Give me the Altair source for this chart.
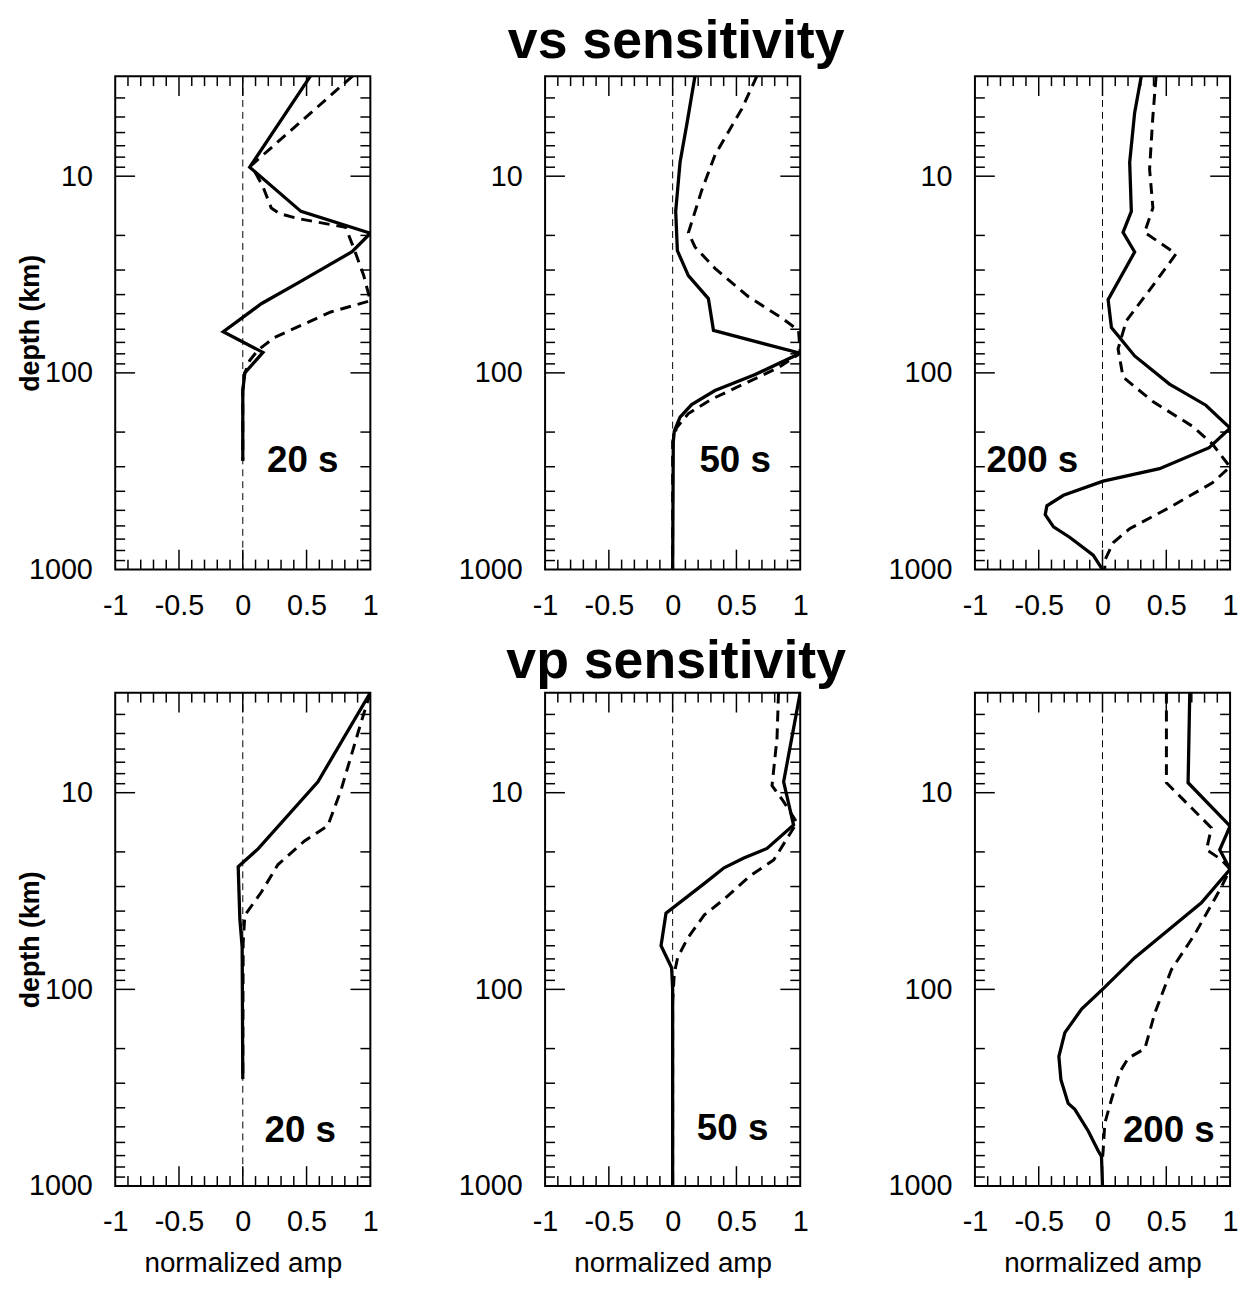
import altair as alt
import pandas as pd

FONT = "Liberation Sans"
W, H = 257, 497
Y_DOMAIN = [3.1, 1000]

# ---- tick / label values ----
x_labels = [-1, -0.5, 0, 0.5, 1]
y_labels = [10, 100, 1000]
x_major = [-0.5, 0.0, 0.5]
x_minor = [-0.9, -0.8, -0.7, -0.6, -0.4, -0.3, -0.2, -0.1, 0.1, 0.2, 0.3, 0.4, 0.6, 0.7, 0.8, 0.9]
y_major = [10, 100]
y_minor = [4, 5, 6, 7, 8, 9, 20, 30, 40, 50, 60, 70, 80, 90, 200, 300, 400, 500, 600, 700, 800, 900]

# ---- vs sensitivity, 20 s ----
vs20_solid_depth = [3.1, 9.0, 15.1, 19.5, 24.2, 35, 44.5, 61.8, 78.7, 100, 123, 280]
vs20_solid_amp = [0.53, 0.054, 0.456, 1.0, 0.857, 0.43, 0.145, -0.153, 0.158, 0.016, 0.0, 0.0]
vs20_dash_depth = [3.1, 8.8, 11.3, 14.5, 15.5, 16.4, 18.2, 23.2, 32, 43, 49, 66, 76.5, 86.6, 100, 123, 280]
vs20_dash_amp = [0.86, 0.067, 0.158, 0.223, 0.288, 0.43, 0.806, 0.87, 0.948, 1.0, 0.69, 0.249, 0.12, 0.054, 0.016, 0.0, 0.0]

# ---- vs sensitivity, 50 s ----
vs50_solid_depth = [3.1, 5.5, 8.5, 15.1, 23.9, 32, 41.9, 60.8, 79.5, 102, 123, 145, 168, 198, 224, 1000]
vs50_solid_amp = [0.175, 0.11, 0.058, 0.024, 0.037, 0.123, 0.28, 0.32, 1.0, 0.647, 0.332, 0.149, 0.058, 0.013, 0.005, 0.0]
vs50_dash_depth = [3.1, 4.55, 7.8, 11.8, 19.4, 22.9, 29.4, 41, 52.6, 60.8, 79.5, 94, 111, 136, 161, 190, 224, 1000]
vs50_dash_amp = [0.66, 0.542, 0.332, 0.228, 0.123, 0.175, 0.332, 0.594, 0.856, 0.987, 1.0, 0.83, 0.594, 0.306, 0.123, 0.031, 0.0, 0.0]

# ---- vs sensitivity, 200 s ----
vs200_solid_depth = [3.1, 4.75, 8.5, 15.1, 19.3, 24.3, 42.4, 58.9, 82, 114, 146, 191, 240, 307, 355, 419, 474, 526, 607, 687, 845, 1000]
vs200_solid_amp = [0.304, 0.252, 0.213, 0.226, 0.161, 0.252, 0.044, 0.07, 0.252, 0.525, 0.81, 1.0, 0.836, 0.447, 0.005, -0.306, -0.436, -0.449, -0.384, -0.255, -0.073, 0.0]
vs200_dash_depth = [3.1, 4.95, 9.2, 14.5, 19.3, 24.8, 36, 54.3, 75.5, 105, 140, 187, 230, 301, 362, 484, 620, 731, 898, 1000]
vs200_dash_amp = [0.42, 0.395, 0.369, 0.395, 0.33, 0.577, 0.395, 0.187, 0.122, 0.161, 0.395, 0.706, 0.862, 1.0, 0.862, 0.525, 0.213, 0.083, 0.018, 0.018]

# ---- vp sensitivity, 20 s ----
vp20_solid_depth = [3.1, 8.8, 19.3, 23.8, 44, 61, 286]
vp20_solid_amp = [1.0, 0.589, 0.12, -0.036, -0.023, -0.005, 0.0]
vp20_dash_depth = [3.1, 4.4, 9.7, 14.7, 17.6, 23.2, 32, 42, 58, 286]
vp20_dash_amp = [1.0, 0.927, 0.77, 0.667, 0.484, 0.276, 0.146, 0.016, 0.003, 0.0]

# ---- vp sensitivity, 50 s ----
vp50_solid_depth = [3.1, 8.8, 14.6, 19.2, 21.5, 24.1, 29, 41, 60, 77.6, 100, 1000]
vp50_solid_amp = [1.0, 0.87, 0.948, 0.74, 0.558, 0.403, 0.247, -0.052, -0.091, -0.008, 0.0, 0.0]
vp50_dash_depth = [3.1, 5.3, 9.2, 11.1, 14.2, 22, 26.4, 34.8, 41.9, 55, 69, 83, 115, 1000]
vp50_dash_amp = [0.83, 0.818, 0.779, 0.87, 0.974, 0.792, 0.61, 0.403, 0.247, 0.117, 0.039, 0.013, 0.0, 0.0]

# ---- vp sensitivity, 200 s ----
vp200_solid_depth = [3.1, 8.9, 14.8, 19.5, 24.5, 36.3, 50, 69, 100, 126, 166, 219, 288, 380, 407, 525, 661, 708, 1000]
vp200_solid_amp = [0.684, 0.671, 1.0, 0.919, 1.0, 0.775, 0.514, 0.253, 0.0, -0.164, -0.295, -0.342, -0.326, -0.269, -0.217, -0.112, -0.034, -0.008, 0.0]
vp200_dash_depth = [3.1, 8.9, 15.1, 19.5, 21.9, 24.5, 30.2, 52.5, 79.4, 132, 200, 224, 263, 363, 479, 661, 724]
vp200_dash_amp = [0.501, 0.501, 0.854, 0.815, 0.932, 1.0, 0.932, 0.723, 0.54, 0.41, 0.332, 0.201, 0.136, 0.07, 0.018, 0.005, 0.0]

# ---- period labels (text, amp, depth) ----
period_labels = ["20 s", "50 s", "200 s", "20 s", "50 s", "200 s"]
period_label_amp = [0.47, 0.49, -0.55, 0.45, 0.47, 0.52]
period_label_depth = [280, 280, 280, 525, 515, 525]

MAJOR_LEN, MINOR_LEN = 20, 10


def make_panel(k, solid_d, solid_a, dash_d, dash_a, ytitle, xtitle):
    xscale = alt.Scale(domain=[-1, 1], nice=False, zero=False)
    yscale = alt.Scale(type="log", domain=Y_DOMAIN, nice=False, reverse=True)
    xaxis = alt.Axis(values=x_labels, labelExpr="'' + datum.value", ticks=False, domain=False,
                     grid=False, labelFont=FONT, labelFontSize=29, labelPadding=22,
                     labelFlush=False, labelOverlap=False, labelColor="black",
                     titleFont=FONT, titleFontSize=28, titleFontWeight="normal",
                     titlePadding=13, titleColor="black")
    yaxis = alt.Axis(values=y_labels, labelExpr="'' + datum.value", ticks=False, domain=False,
                     grid=False, labelFont=FONT, labelFontSize=29, labelPadding=23,
                     labelFlush=False, labelOverlap=False, labelColor="black",
                     titleFont=FONT, titleFontSize=27, titleFontWeight="bold",
                     titlePadding=11, maxExtent=60, titleColor="black")
    X = alt.X("amp:Q", scale=xscale, axis=xaxis, title=xtitle)
    Y = alt.Y("depth:Q", scale=yscale, axis=yaxis, title=ytitle)

    layers = []
    layers.append(alt.Chart(pd.DataFrame({"amp": [0.0]})).mark_rule(
        color="black", strokeWidth=1, strokeDash=[7, 5]).encode(x=X))

    for vals, ln in ((y_minor, MINOR_LEN), (y_major, MAJOR_LEN)):
        df = pd.DataFrame({"depth": vals})
        layers.append(alt.Chart(df).mark_rule(color="black", strokeWidth=1.5).encode(
            y=Y, x=alt.value(0), x2=alt.value(ln)))
        layers.append(alt.Chart(df).mark_rule(color="black", strokeWidth=1.5).encode(
            y=Y, x=alt.value(W), x2=alt.value(W - ln)))
    for vals, ln in ((x_minor, MINOR_LEN), (x_major, MAJOR_LEN)):
        df = pd.DataFrame({"amp": vals})
        layers.append(alt.Chart(df).mark_rule(color="black", strokeWidth=1.5).encode(
            x=X, y=alt.value(H), y2=alt.value(H - ln)))
        layers.append(alt.Chart(df).mark_rule(color="black", strokeWidth=1.5).encode(
            x=X, y=alt.value(0), y2=alt.value(ln)))

    dash_df = pd.DataFrame({"amp": dash_a, "depth": dash_d, "i": list(range(len(dash_d)))})
    solid_df = pd.DataFrame({"amp": solid_a, "depth": solid_d, "i": list(range(len(solid_d)))})
    layers.append(alt.Chart(dash_df).mark_line(color="black", strokeWidth=3,
                                               strokeDash=[11, 7], clip=True).encode(
        x=X, y=Y, order=alt.Order("i:Q")))
    layers.append(alt.Chart(solid_df).mark_line(color="black", strokeWidth=3.3, clip=True).encode(
        x=X, y=Y, order=alt.Order("i:Q")))

    lab_df = pd.DataFrame({"amp": [period_label_amp[k]], "depth": [period_label_depth[k]],
                           "t": [period_labels[k]]})
    layers.append(alt.Chart(lab_df).mark_text(font=FONT, fontSize=37, fontWeight="bold",
                                              color="black", align="center",
                                              baseline="middle").encode(x=X, y=Y, text="t:N"))
    return alt.layer(*layers).properties(width=W, height=H)


panel_data = [
    (vs20_solid_depth, vs20_solid_amp, vs20_dash_depth, vs20_dash_amp),
    (vs50_solid_depth, vs50_solid_amp, vs50_dash_depth, vs50_dash_amp),
    (vs200_solid_depth, vs200_solid_amp, vs200_dash_depth, vs200_dash_amp),
    (vp20_solid_depth, vp20_solid_amp, vp20_dash_depth, vp20_dash_amp),
    (vp50_solid_depth, vp50_solid_amp, vp50_dash_depth, vp50_dash_amp),
    (vp200_solid_depth, vp200_solid_amp, vp200_dash_depth, vp200_dash_amp),
]

panels = []
for k, (sd, sa, dd, da) in enumerate(panel_data):
    ytitle = "depth (km)" if k % 3 == 0 else None
    xtitle = "normalized amp" if k >= 3 else None
    panels.append(make_panel(k, sd, sa, dd, da, ytitle, xtitle))

row1 = alt.hconcat(*panels[:3], spacing=77).properties(
    title=alt.TitleParams("vs sensitivity", font=FONT, fontSize=54, fontWeight="bold",
                          color="black", anchor="middle", dx=49, offset=6))
row2 = alt.hconcat(*panels[3:], spacing=77).properties(
    title=alt.TitleParams("vp sensitivity", font=FONT, fontSize=54, fontWeight="bold",
                          color="black", anchor="middle", dx=49, offset=2))

chart = alt.vconcat(row1, row2, spacing=14).properties(
    padding={"left": 8, "top": 2, "right": 0, "bottom": 0},
    background="white",
).configure_view(stroke="black", strokeWidth=2)

chart.save("out.html", embed_options={"renderer": "svg", "actions": False})
